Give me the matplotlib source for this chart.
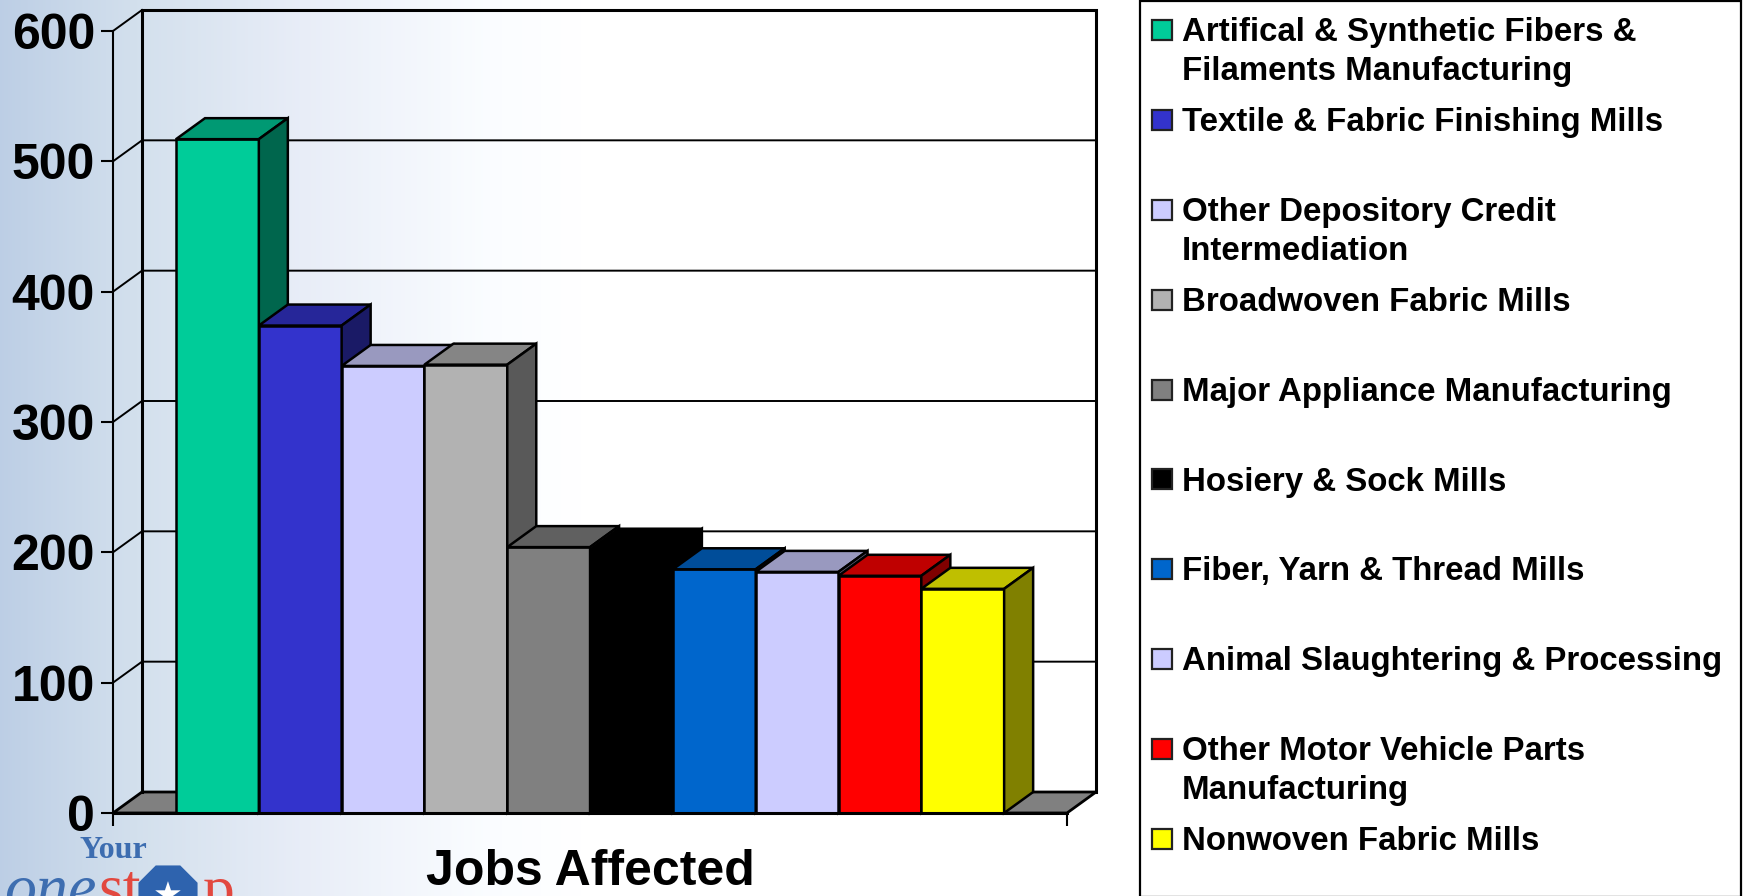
import numpy as np
from matplotlib import pyplot as plt
from matplotlib.patches import Polygon, Rectangle, RegularPolygon


# Data
industries = ['Artifical & Synthetic Fibers &\nFilaments Manufacturing',
              'Textile & Fabric Finishing Mills',
              'Other Depository Credit\nIntermediation',
              'Broadwoven Fabric Mills',
              'Major Appliance Manufacturing',
              'Hosiery & Sock Mills',
              'Fiber, Yarn & Thread Mills',
              'Animal Slaughtering & Processing',
              'Other Motor Vehicle Parts\nManufacturing',
              'Nonwoven Fabric Mills']
jobs = [517, 374, 343, 344, 204, 202, 187, 185, 182, 172]
colors = ['#00CC99', '#3333CC', '#CCCCFF', '#B2B2B2', '#808080',
          '#000000', '#0066CC', '#CCCCFF', '#FF0000', '#FFFF00']
y_ticks = [0, 100, 200, 300, 400, 500, 600]

W, H = 1744, 896
FONT = 'Liberation Sans'


def shade(color, f):
    rgb = np.array(plt.matplotlib.colors.to_rgb(color))
    return tuple(rgb * f)


fig = plt.figure(figsize=(W / 100, H / 100), dpi=100)

# Background and legend, in pixels
bg = fig.add_axes([0, 0, 1, 1])
bg.set_xlim(0, W)
bg.set_ylim(H, 0)
bg.axis('off')
stops_x = [0, 140, 300, 480, 580, W]
stops_c = np.array([[0.74, 0.81, 0.90], [0.83, 0.88, 0.93], [0.91, 0.93, 0.97],
                    [0.98, 0.99, 1.0], [1, 1, 1], [1, 1, 1]])
xs = np.arange(W)
grad = np.stack([np.interp(xs, stops_x, stops_c[:, i]) for i in range(3)], axis=1)
bg.imshow(grad[np.newaxis, :, :], extent=[0, W, H, 0], aspect='auto', zorder=0)

bg.add_patch(Rectangle((1139.5, 1.5), 601.5, H, fc='white', ec='black', lw=1.6, zorder=1))
legend_y = 30
for name, c in zip(industries, colors):
    bg.add_patch(Rectangle((1152, legend_y - 10), 20, 20, fc=c, ec='#222222', lw=1.6, zorder=2))
    lines = name.split('\n')
    for k, line in enumerate(lines):
        bg.text(1182, legend_y + 2.5 + k * 39, line, fontsize=23.8, family=FONT, fontweight='bold',
                va='center', ha='left', zorder=3)
    legend_y += 89.9

# Logo
bg.text(113, 851, 'Your', fontsize=23, family='Liberation Serif', fontweight='bold',
        color='#3D6DB0', ha='center', va='center', zorder=2)
bg.text(4, 908, 'one', fontsize=46, family='Liberation Serif', style='italic',
        color='#3D6DB0', ha='left', va='baseline', zorder=2)
bg.text(98, 908, 'st', fontsize=46, family='Liberation Serif', color='#E2483F',
        ha='left', va='baseline', zorder=2)
bg.add_patch(RegularPolygon((168, 895), 8, radius=32, orientation=np.pi / 8,
                            fc='#2E63AE', ec='none', zorder=2))
bg.text(168, 896, '\u2605', fontsize=24, color='white', ha='center', va='center', zorder=3)
bg.text(203, 908, 'p', fontsize=46, family='Liberation Serif', color='#E2483F',
        ha='left', va='baseline', zorder=2)

# Chart: front plane runs 113-1067 px across, 813-31 px down
ax = fig.add_axes([113 / W, 1 - 813 / H, (1067 - 113) / W, (813 - 31) / H])
ax.patch.set_alpha(0)
ax.set_xlim(0, 11.52)
ax.set_ylim(0, 600)
dx = 29 / 82.8
dy = 21 / 782 * 600
x_end = 11.52

# Floor and back wall
ax.add_patch(Polygon([(0, 0), (dx, dy), (x_end + dx, dy), (x_end, 0)], closed=True,
                     fc='#808080', ec='black', lw=2, clip_on=False, zorder=1))
ax.plot([dx, dx, x_end + dx, x_end + dx], [dy, 600 + dy, 600 + dy, dy], color='black',
        lw=2.2, clip_on=False, zorder=1, solid_joinstyle='miter')
for t in y_ticks[1:-1]:
    ax.plot([0, dx, x_end + dx], [t, t + dy, t + dy], color='black', lw=1.4,
            clip_on=False, zorder=1)
ax.plot([0, dx], [600, 600 + dy], color='black', lw=1.4, clip_on=False, zorder=1)

# Bars
x0 = 63 / 82.8
for i, (v, c) in enumerate(zip(jobs, colors)):
    x = x0 + i
    z = 3 + i
    ax.bar(x, v, width=1, align='edge', color=c, edgecolor='black', lw=1.8, zorder=z)
    ax.add_patch(Polygon([(x, v), (x + dx, v + dy), (x + 1 + dx, v + dy), (x + 1, v)], closed=True,
                         fc=shade(c, 0.75), ec='black', lw=1.8, clip_on=False, zorder=z))
    ax.add_patch(Polygon([(x + 1, 0), (x + 1 + dx, dy), (x + 1 + dx, v + dy), (x + 1, v)], closed=True,
                         fc=shade(c, 0.5), ec='black', lw=1.8, clip_on=False, zorder=z))

# Axes
for s in ['top', 'right']:
    ax.spines[s].set_visible(False)
ax.spines['left'].set_linewidth(1.5)
ax.spines['bottom'].set_linewidth(2.2)
ax.spines['left'].set_zorder(20)
ax.spines['bottom'].set_zorder(20)
ax.set_yticks(y_ticks)
ax.set_xticks([0, x_end])
ax.set_xticklabels([])
ax.tick_params(axis='both', direction='out', length=9, width=1.5, pad=4)
for label in ax.get_yticklabels():
    label.set_fontsize(36)
    label.set_fontfamily(FONT)
    label.set_fontweight('bold')
ax.text((590 - 113) / 82.8, -45, 'Jobs Affected', fontsize=36, family=FONT, fontweight='bold',
        ha='center', va='center')

fig.savefig('out.png', dpi=100)
